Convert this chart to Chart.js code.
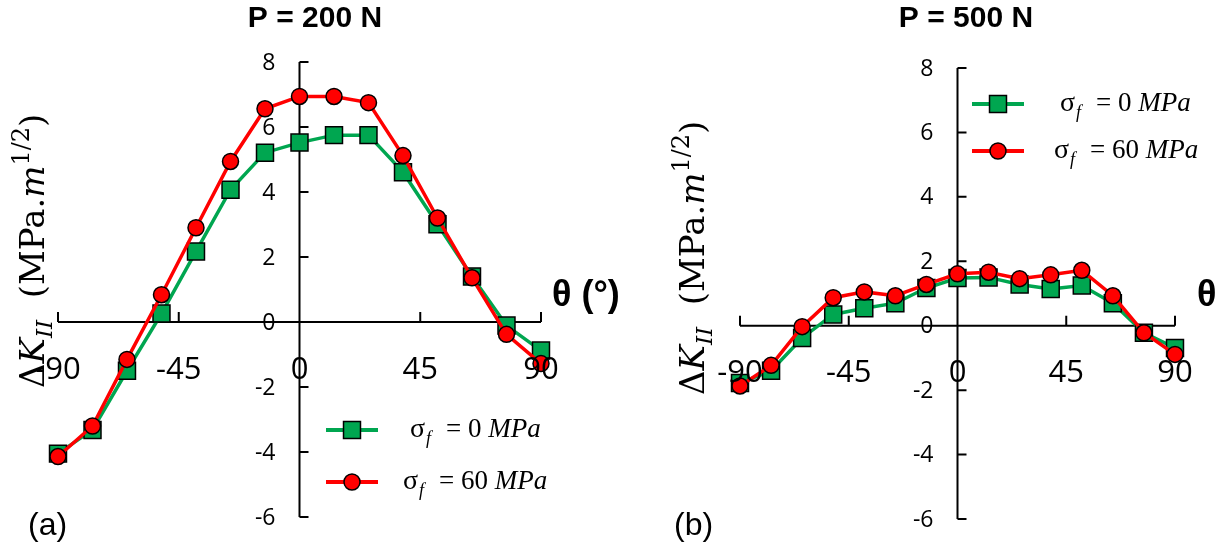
<!DOCTYPE html>
<html>
<head>
<meta charset="utf-8">
<script src="https://cdn.jsdelivr.net/npm/chart.js@4.4.0/dist/chart.umd.min.js"></script>
<style>
  body { margin: 0; background: #fff; }
  #wrap { position: relative; width: 1225px; height: 554px; overflow: hidden; }
  canvas { position: absolute; left: 0; top: 0; }
</style>
</head>
<body>
<div id="wrap">
  <canvas id="chartA" width="1225" height="554"></canvas>
  <canvas id="chartB" width="1225" height="554"></canvas>
</div>
<script>
// crack angle theta (deg), 15 points from -90 to 90
let theta = [-90, -77.14, -64.29, -51.43, -38.57, -25.71, -12.86, 0, 12.86, 25.71, 38.57, 51.43, 64.29, 77.14, 90];

// P = 200 N
let k200_sf0 = [-4.05, -3.32, -1.50, 0.26, 2.17, 4.07, 5.21, 5.52, 5.75, 5.75, 4.61, 3.01, 1.40, -0.11, -0.88];
let k200_sf60 = [-4.14, -3.20, -1.15, 0.84, 2.90, 4.94, 6.56, 6.94, 6.94, 6.75, 5.12, 3.20, 1.36, -0.38, -1.28];

// P = 500 N
let k500_sf0 = [-1.78, -1.40, -0.38, 0.35, 0.54, 0.70, 1.17, 1.48, 1.50, 1.28, 1.14, 1.25, 0.70, -0.22, -0.69];
let k500_sf60 = [-1.87, -1.23, -0.03, 0.87, 1.05, 0.93, 1.28, 1.61, 1.66, 1.46, 1.58, 1.72, 0.93, -0.22, -0.89];

let xTicks = [-90, -45, 0, 45, 90];
let yTicks = [8, 6, 4, 2, 0, -2, -4, -6];
let seriesNames = ["0", "60"];

const GREEN = "#00a650";
const RED = "#ff0000";
const SERIF = "'Liberation Serif', 'DejaVu Serif', serif";
const MATH = "'DejaVu Serif', serif";
const SANS = "'Liberation Sans', Arial, sans-serif";
const TICKFONT = "'Open Sans', 'Noto Sans', sans-serif";

function toPoints(xs, ys) {
    return xs.map((x, i) => ({ x: x, y: ys[i] }));
}

// legend label: sigma_f = N MPa
function drawSigmaLabel(ctx, x, y, value) {
    ctx.save();
    ctx.textBaseline = "middle";
    ctx.textAlign = "left";
    ctx.fillStyle = "#000";
    ctx.font = "28px " + SERIF;
    ctx.fillText("σ", x, y);
    x += ctx.measureText("σ").width;
    ctx.font = "italic 18px " + SERIF;
    ctx.fillText("f", x + 1, y + 9);
    x += ctx.measureText("f").width + 16;
    ctx.font = "27px " + SERIF;
    let s = "= " + value + " ";
    ctx.fillText(s, x, y);
    x += ctx.measureText(s).width;
    ctx.font = "italic 27px " + SERIF;
    ctx.fillText("MPa", x, y);
    ctx.restore();
}

// rotated y title: ΔK_II (MPa.m^1/2)
function drawYTitle(ctx, xBase, yStart) {
    ctx.save();
    ctx.translate(xBase, yStart);
    ctx.rotate(-Math.PI / 2);
    ctx.fillStyle = "#000";
    ctx.textBaseline = "alphabetic";
    ctx.textAlign = "left";
    let x = 0;
    let parts = [
        ["Δ", "34px " + MATH, 0],
        ["K", "italic 34px " + MATH, 0],
        ["II", "italic 23px " + MATH, 8],
        ["  (MPa.", "34px " + MATH, 0],
        ["m", "italic 34px " + MATH, 0],
        ["1/2", "24px " + MATH, -15],
        [")", "34px " + MATH, 0]
    ];
    parts.forEach(p => {
        ctx.font = p[1];
        ctx.fillText(p[0], x, p[2]);
        x += ctx.measureText(p[0]).width;
    });
    ctx.restore();
}

const crossAxes = {
    id: "crossAxes",
    beforeDatasetsDraw(chart, args, o) {
        let ctx = chart.ctx;
        let xs = chart.scales.x, ys = chart.scales.y;
        let x0 = xs.getPixelForValue(0), y0 = ys.getPixelForValue(0);
        ctx.save();
        ctx.strokeStyle = "#000";
        ctx.lineWidth = 2;
        ctx.beginPath();
        ctx.moveTo(xs.getPixelForValue(xTicks[0]), y0);
        ctx.lineTo(xs.getPixelForValue(xTicks[xTicks.length - 1]), y0);
        xTicks.forEach(t => {
            let px = xs.getPixelForValue(t);
            ctx.moveTo(px, y0);
            ctx.lineTo(px, y0 - 10);
        });
        ctx.moveTo(x0, ys.getPixelForValue(yTicks[0]));
        ctx.lineTo(x0, ys.getPixelForValue(yTicks[yTicks.length - 1]));
        yTicks.forEach(t => {
            let py = ys.getPixelForValue(t);
            ctx.moveTo(x0, py);
            ctx.lineTo(x0 + 9, py);
        });
        ctx.stroke();
        ctx.restore();
    },
    afterDatasetsDraw(chart, args, o) {
        let ctx = chart.ctx;
        let xs = chart.scales.x, ys = chart.scales.y;
        let x0 = xs.getPixelForValue(0), y0 = ys.getPixelForValue(0);
        ctx.save();
        ctx.fillStyle = "#000";

        // y tick labels
        ctx.font = "23px " + TICKFONT;
        ctx.textAlign = "right";
        ctx.textBaseline = "middle";
        yTicks.forEach(t => ctx.fillText(String(t), x0 - 24, ys.getPixelForValue(t) + 1));

        // x tick labels
        ctx.font = "31px " + TICKFONT;
        ctx.textAlign = "center";
        xTicks.forEach(t => ctx.fillText(String(t), xs.getPixelForValue(t), y0 + o.xLabelGap));

        // panel title
        ctx.font = "bold 30px " + SANS;
        ctx.fillText(o.title, o.titleX, 19);

        // theta label
        ctx.font = "bold 36px " + SANS;
        ctx.textAlign = "left";
        ctx.fillText("θ (°)", o.thetaX, 296);

        // panel letter
        ctx.font = "32px " + SANS;
        ctx.fillText(o.letter, o.letterX, 526);

        drawYTitle(ctx, o.yTitleX, o.yTitleY);

        // legend
        chart.data.datasets.forEach((ds, i) => {
            let ly = o.legendY[i];
            let lx = o.legendX;
            ctx.strokeStyle = ds.borderColor;
            ctx.lineWidth = 4;
            ctx.beginPath();
            ctx.moveTo(lx, ly);
            ctx.lineTo(lx + 52, ly);
            ctx.stroke();
            ctx.fillStyle = ds.pointBackgroundColor;
            ctx.strokeStyle = "#000";
            ctx.lineWidth = 1.5;
            Chart.helpers.drawPoint(ctx, {
                pointStyle: ds.pointStyle,
                radius: ds.pointRadius,
                borderWidth: 1.5
            }, lx + 26, ly);
            drawSigmaLabel(ctx, o.legendTextX[i], ly, seriesNames[i]);
        });
        ctx.restore();
    }
};

function makeChart(id, sf0, sf60, pad, extra) {
    let ctx = document.getElementById(id).getContext("2d");
    return new Chart(ctx, {
        type: "line",
        data: {
            datasets: [{
                label: "σf = 0 MPa",
                data: toPoints(theta, sf0),
                borderColor: GREEN,
                backgroundColor: GREEN,
                borderWidth: 3.5,
                pointStyle: "rect",
                pointRadius: 12,
                pointBackgroundColor: GREEN,
                pointBorderColor: "#000",
                pointBorderWidth: 1.5,
                order: 2,
                clip: false,
                tension: 0
            }, {
                label: "σf = 60 MPa",
                data: toPoints(theta, sf60),
                borderColor: RED,
                backgroundColor: RED,
                borderWidth: 3.5,
                pointStyle: "circle",
                pointRadius: 8,
                pointBackgroundColor: RED,
                pointBorderColor: "#000",
                pointBorderWidth: 1.5,
                order: 1,
                clip: false,
                tension: 0
            }]
        },
        options: {
            responsive: false,
            animation: false,
            layout: { padding: pad },
            scales: {
                x: { type: "linear", min: -90, max: 90, display: false },
                y: { type: "linear", min: -6, max: 8, display: false }
            },
            plugins: {
                legend: { display: false },
                tooltip: { enabled: false },
                crossAxes: extra
            }
        },
        plugins: [crossAxes]
    });
}

makeChart("chartA", k200_sf0, k200_sf60,
    { left: 58, right: 684, top: 62, bottom: 37 },
    {
        title: "P = 200 N", titleX: 315, thetaX: 552, letter: "(a)", letterX: 28,
        xLabelGap: 48, yTitleX: 44, yTitleY: 388,
        legendX: 326, legendY: [430, 482], legendTextX: [410, 403]
    });

makeChart("chartB", k500_sf0, k500_sf60,
    { left: 740, right: 50, top: 68, bottom: 35 },
    {
        title: "P = 500 N", titleX: 966, thetaX: 1197, letter: "(b)", letterX: 674,
        xLabelGap: 47, yTitleX: 704, yTitleY: 395,
        legendX: 972, legendY: [104, 151], legendTextX: [1060, 1054]
    });
</script>
</body>
</html>
